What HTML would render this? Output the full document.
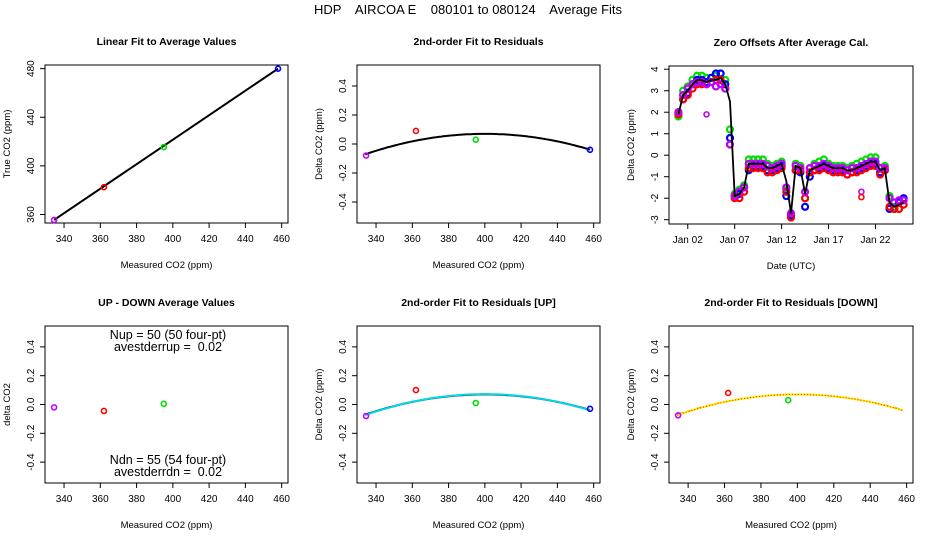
<!DOCTYPE html>
<html><head><meta charset="utf-8"><style>
body{margin:0;background:#fff;}
svg{display:block;font-family:"Liberation Sans",sans-serif;}
text{white-space:pre;}
</style></head><body>
<svg id="c" width="936" height="540" viewBox="0 0 936 540">
<text x="468" y="14" text-anchor="middle" font-size="13">HDP    AIRCOA E    080101 to 080124    Average Fits</text>
</svg>
<script>
// ---- data ----
const calX = [334.5, 362, 395, 458];
const calTrue = [355.5, 382.5, 415.5, 480];
const calColors = ['#c000ff','#ff0000','#00dd00','#0000ff'];
const linFit = [0.0, 1.0];
const resY = [-0.08, 0.09, 0.03, -0.04];
const resFit = [0.07, 0.0, -0.0000324]; // c0 + c1*(x-400) + c2*(x-400)^2
const udX = [334.5, 362, 395];
const udY = [-0.02, -0.045, 0.005];
const udColors = ['#c000ff','#ff0000','#00dd00'];
const upY = [-0.08, 0.10, 0.01, -0.03];
const upFit = [0.072, 0.0, -0.0000335];
const dnX = [334.5, 362, 395];
const dnY = [-0.075, 0.08, 0.03];
const dnFit = [0.07, 0.0, -0.000033];
const residTicksX = [340,360,380,400,420,440,460];
const residTicksY = [-0.4,-0.2,0.0,0.2,0.4];
const linTicksY = [360,400,440,480];
// zero offsets time series (day of January)
const zDays = [1.0,1.5,2.0,2.5,3.0,3.5,4.0,4.5,5.0,5.5,6.0,6.5,7.0,7.5,8.0,8.5,9.0,9.5,10.0,10.5,11.0,11.5,12.0,12.5,13.0,13.5,14.0,14.5,15.0,15.5,16.0,16.5,17.0,17.5,18.0,18.5,19.0,19.5,20.0,20.5,21.0,21.5,22.0,22.5,23.0,23.5,24.0,24.5,25.0];
const zBlack = [1.9,2.8,3.0,3.3,3.5,3.5,3.4,3.5,3.5,3.6,3.3,2.5,-1.9,-1.8,-1.5,-0.4,-0.4,-0.4,-0.4,-0.6,-0.6,-0.5,-0.4,-1.2,-2.7,-0.5,-0.6,-1.8,-0.7,-0.6,-0.5,-0.4,-0.5,-0.6,-0.6,-0.6,-0.7,-0.7,-0.6,-0.5,-0.4,-0.3,-0.3,-0.7,-0.6,-2.2,-2.4,-2.3,-2.2];
const zGreen = [1.8,3.0,3.2,3.5,3.7,3.7,3.6,3.6,3.7,3.8,3.5,1.2,-1.8,-1.6,-1.4,-0.2,-0.2,-0.2,-0.2,-0.4,-0.5,-0.4,-0.3,-1.6,-2.8,-0.4,-0.5,-2.0,-0.6,-0.4,-0.3,-0.2,-0.4,-0.5,-0.5,-0.5,-0.6,-0.5,-0.4,-0.3,-0.2,-0.1,-0.1,-0.6,-0.5,-1.9,-2.4,-2.5,-2.3];
const zBlue = [2.0,2.6,2.9,3.3,3.5,3.5,3.4,3.6,3.8,3.8,3.3,0.8,-1.9,-1.8,-1.5,-0.7,-0.5,-0.5,-0.5,-0.7,-0.7,-0.6,-0.5,-1.9,-2.8,-0.7,-0.8,-2.4,-1.0,-0.7,-0.6,-0.5,-0.6,-0.7,-0.7,-0.7,-0.9,-0.8,-0.7,-0.6,-0.5,-0.4,-0.4,-0.8,-0.7,-2.5,-2.5,-2.2,-2.0];
const zRed = [1.9,2.6,2.8,3.1,3.3,3.3,3.3,3.4,3.5,3.5,3.1,0.5,-2.0,-2.0,-1.7,-0.6,-0.6,-0.6,-0.6,-0.8,-0.8,-0.7,-0.6,-1.7,-2.9,-0.7,-0.7,-2.0,-0.8,-0.7,-0.7,-0.6,-0.7,-0.8,-0.8,-0.8,-0.9,-0.8,-0.8,-0.7,-0.6,-0.5,-0.5,-0.9,-0.7,-2.4,-2.5,-2.5,-2.3];
const zMagenta = [2.0,2.8,3.1,3.3,3.4,3.4,3.3,3.4,3.2,3.3,3.1,0.5,-1.9,-1.7,-1.5,-0.4,-0.4,-0.4,-0.4,-0.5,-0.6,-0.5,-0.4,-1.5,-2.7,-0.5,-0.6,-1.7,-0.6,-0.5,-0.5,-0.4,-0.5,-0.6,-0.6,-0.6,-0.7,-0.6,-0.6,-0.5,-0.4,-0.3,-0.3,-0.6,-0.6,-2.0,-2.2,-2.1,-2.1];
const zOutDays = [4.0, 20.5, 20.5];
const zOutVals = [1.9, -1.7, -1.95];
const zOutColors = ['#c000ff','#c000ff','#ff0000'];
const dateTicks = [2,7,12,17,22];
const dateLabels = ['Jan 02','Jan 07','Jan 12','Jan 17','Jan 22'];
const zTicksY = [-3,-2,-1,0,1,2,3,4];

// ---- drawing ----
const NS='http://www.w3.org/2000/svg';
const svg=document.getElementById('c');
function el(tag,attrs,parent,txt){const e=document.createElementNS(NS,tag);for(const k in attrs)e.setAttribute(k,attrs[k]);if(txt!==undefined)e.textContent=txt;(parent||svg).appendChild(e);return e;}
function panel(name,bx,by,bw,bh,xmin,xmax,ymin,ymax,title,xlab,ylab){
  const g=el('g',{});
  
  
  const sx=v=>bx+(v-xmin)/(xmax-xmin)*bw, sy=v=>by+bh-(v-ymin)/(ymax-ymin)*bh;
  const r=el('rect',{x:bx,y:by,width:bw,height:bh,fill:'none',stroke:'#000','stroke-width':1},g);
  
  
  const t=el('text',{x:bx+bw/2,y:by-20,'text-anchor':'middle','font-size':10.5,'font-weight':'bold'},g,title);
  
  
  const xl=el('text',{x:bx+bw/2,y:by+bh+45,'text-anchor':'middle','font-size':9.5},g,xlab);
  
  
  const yl=el('text',{x:0,y:0,'text-anchor':'middle','font-size':9.5,transform:`translate(${bx-35},${by+bh/2}) rotate(-90)`},g,ylab);
  
  
  return {g,sx,sy,bx,by,bw,bh};
}
function xTicks(p,vals,labels){vals.forEach((v,i)=>{const x=p.sx(v);el('line',{x1:x,x2:x,y1:p.by+p.bh,y2:p.by+p.bh+5,stroke:'#000'},p.g);
  const t=el('text',{x:x,y:p.by+p.bh+19,'text-anchor':'middle','font-size':10},p.g,labels?labels[i]:String(v));
  
  });}
function yTicks(p,vals,fmt){vals.forEach(v=>{const y=p.sy(v);el('line',{x1:p.bx-5,x2:p.bx,y1:y,y2:y,stroke:'#000'},p.g);
  const t=el('text',{x:0,y:0,'text-anchor':'middle','font-size':10,transform:`translate(${p.bx-11},${y}) rotate(-90)`},p.g,fmt?fmt(v):String(v));
  
  });}
function pt(p,x,y,c,r,w){const e=el('circle',{cx:p.sx(x),cy:p.sy(y),r:r||2.5,fill:'none',stroke:c,'stroke-width':w||1.6},p.g);
  
  return e;}
function curve(p,coef,x0,x1,attrs){let d='';for(let x=x0;x<=x1+1e-9;x+=1){const y=coef[0]+coef[1]*(x-400)+coef[2]*(x-400)*(x-400);d+=(d?'L':'M')+p.sx(x).toFixed(1)+','+p.sy(y).toFixed(1);}
  const e=el('path',Object.assign({d,fill:'none'},attrs),p.g);
  
  return e;}
const f1=v=>v.toFixed(1);
const XMIN=329.5,XMAX=463.5,YMIN=-0.545,YMAX=0.545;

// panel 1
let p=panel('linear-fit-panel',45,65,243,158,XMIN,XMAX,353,483,'Linear Fit to Average Values','Measured CO2 (ppm)','True CO2 (ppm)');
xTicks(p,residTicksX);yTicks(p,linTicksY);
{const e=el('line',{x1:p.sx(calX[0]),y1:p.sy(calX[0]*linFit[1]+linFit[0]+(calTrue[0]-calX[0])),x2:p.sx(calX[3]),y2:p.sy(calTrue[3]),stroke:'#000','stroke-width':2},p.g);

}
calX.forEach((x,i)=>pt(p,x,calTrue[i],calColors[i]));

// panel 2
p=panel('residual-fit-panel',357,65,243,158,XMIN,XMAX,YMIN,YMAX,'2nd-order Fit to Residuals','Measured CO2 (ppm)','Delta CO2 (ppm)');
xTicks(p,residTicksX);yTicks(p,residTicksY,f1);
curve(p,resFit,334,458,{stroke:'#000','stroke-width':2});
calX.forEach((x,i)=>pt(p,x,resY[i],calColors[i]));

// panel 3
p=panel('zero-offsets-panel',669,66,244,158,0,26,-3.2,4.15,'Zero Offsets After Average Cal.','Date (UTC)','Delta CO2 (ppm)');
xTicks(p,dateTicks,dateLabels);yTicks(p,zTicksY);
[[zGreen,'#00dd00'],[zBlue,'#0000ff'],[zRed,'#ff0000'],[zMagenta,'#c000ff']].forEach(([arr,c])=>{arr.forEach((v,i)=>pt(p,zDays[i],v,c,3,2.2));});
zOutDays.forEach((d,i)=>pt(p,d,zOutVals[i],zOutColors[i]));
{let d='';zBlack.forEach((v,i)=>{d+=(i?'L':'M')+p.sx(zDays[i]).toFixed(1)+','+p.sy(v).toFixed(1);});
const e=el('path',{d,fill:'none',stroke:'#000','stroke-width':1.8},p.g);

}

// panel 4
p=panel('up-down-panel',45,326,243,157,XMIN,XMAX,YMIN,YMAX,'UP - DOWN Average Values','Measured CO2 (ppm)','delta CO2');
xTicks(p,residTicksX);yTicks(p,residTicksY,f1);
udX.forEach((x,i)=>pt(p,x,udY[i],udColors[i]));
[['Nup = 50 (50 four-pt)',339,'n-up-label'],['avestderrup =  0.02',351,'stderr-up-label'],['Ndn = 55 (54 four-pt)',464,'n-down-label'],['avestderrdn =  0.02',476,'stderr-down-label']].forEach(([s,y,n])=>{
const t=el('text',{x:168,y:y,'text-anchor':'middle','font-size':12.5},p.g,s);

});

// panel 5
p=panel('residual-fit-up-panel',357,326,243,157,XMIN,XMAX,YMIN,YMAX,'2nd-order Fit to Residuals [UP]','Measured CO2 (ppm)','Delta CO2 (ppm)');
xTicks(p,residTicksX);yTicks(p,residTicksY,f1);
curve(p,resFit,334,458,{stroke:'#000','stroke-width':2});
curve(p,upFit,334,458,{stroke:'#00d8e8','stroke-width':2});
calX.forEach((x,i)=>pt(p,x,upY[i],calColors[i]));

// panel 6
p=panel('residual-fit-down-panel',669,326,244,157,XMIN,XMAX,YMIN,YMAX,'2nd-order Fit to Residuals [DOWN]','Measured CO2 (ppm)','Delta CO2 (ppm)');
xTicks(p,residTicksX);yTicks(p,residTicksY,f1);
curve(p,resFit,334,458,{stroke:'#000','stroke-width':1.5,'stroke-dasharray':'6 4'});
curve(p,dnFit,334,458,{stroke:'#ffee00','stroke-width':2});
curve(p,dnFit,334,458,{stroke:'#ff2000','stroke-width':1,'stroke-dasharray':'1 2'});
dnX.forEach((x,i)=>pt(p,x,dnY[i],calColors[i]));
</script>
</body></html>
